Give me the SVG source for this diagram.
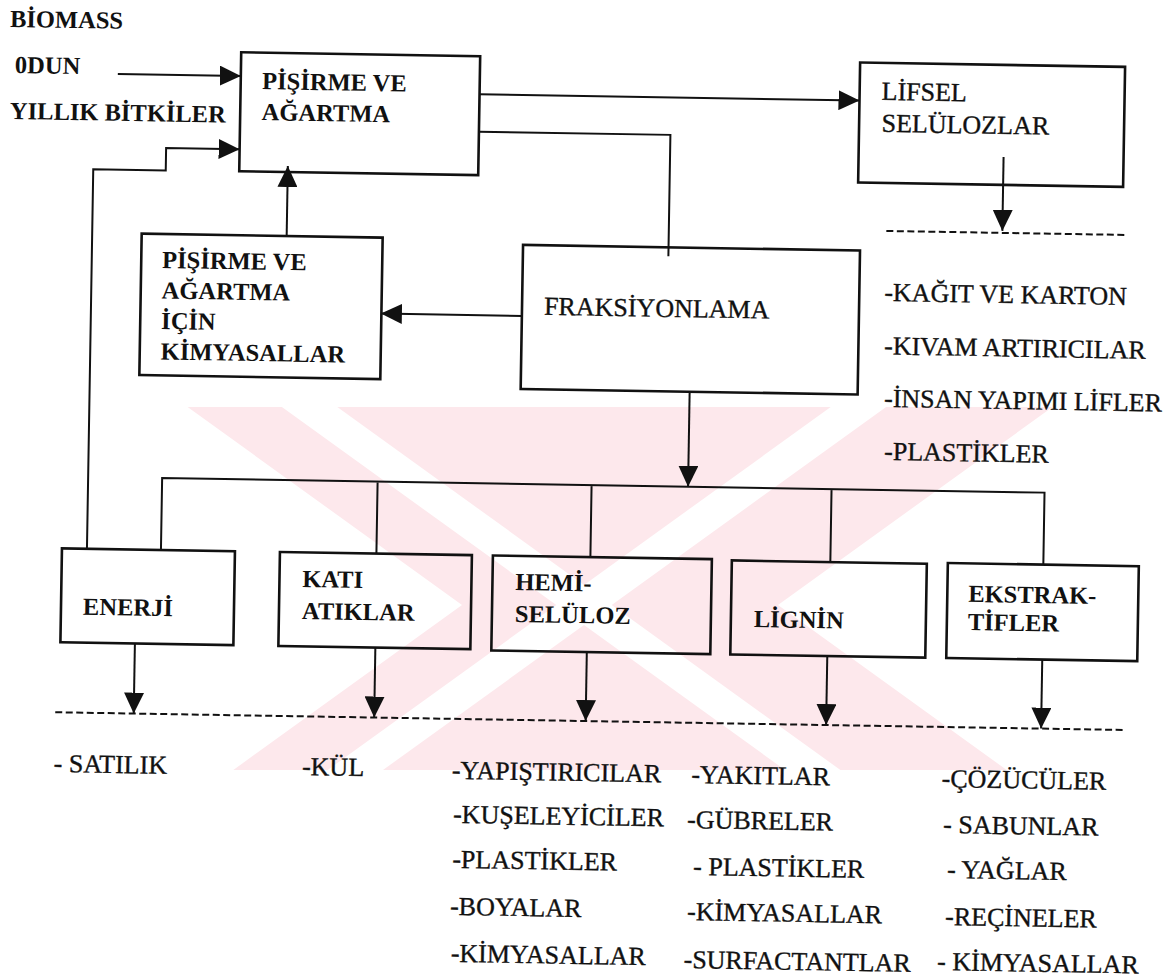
<svg xmlns="http://www.w3.org/2000/svg" width="1170" height="979" viewBox="0 0 1170 979">
<defs>
<clipPath id="wmclip"><rect x="160" y="407" width="905" height="363"/></clipPath>
<marker id="ah" markerUnits="userSpaceOnUse" markerWidth="22" markerHeight="20" refX="21" refY="10" orient="auto"><path d="M0,0 L21,10 L0,20 Z" fill="#111"/></marker>
</defs>
<style>
.box{fill:none;stroke:#111;stroke-width:2.6}
.ln{fill:none;stroke:#111;stroke-width:2}
.arr{fill:none;stroke:#111;stroke-width:2;marker-end:url(#ah)}
.dash{fill:none;stroke:#111;stroke-width:2;stroke-dasharray:7 3.5}
.b{font-family:"Liberation Serif","Times New Roman",serif;font-weight:bold;font-size:24.5px;fill:#111}
.r{font-family:"Liberation Serif","Times New Roman",serif;font-size:26px;fill:#111;stroke:#111;stroke-width:0.35}
</style>
<rect width="1170" height="979" fill="#fff"/>
<g id="watermark" clip-path="url(#wmclip)" fill="#fde8ec">
<polygon points="187.6,407 462,605 233.3,770 327.6,770 556.3,605 281.9,407"/>
<polygon points="1052.5,407 778,605 1006.7,770 840.4,770 611.7,605 886.1,407"/>
<polygon points="337.3,407 830.7,407 584,585"/>
<polygon points="584,625 785,770 383,770"/>
</g>
<g transform="rotate(0.95 585 490)">
<g id="connectors">
<path class="arr" d="M111,81.7 H234"/>
<path class="arr" d="M88,557 V177.5 H160.5 V155 H234"/>
<path class="arr" d="M282.5,241 V171"/>
<path class="arr" d="M473,96 H853"/>
<path class="ln" d="M473,133.5 H664.5 V255"/>
<path class="arr" d="M519,317 H378"/>
<path class="arr" d="M998,150 V224"/>
<path class="dash" d="M882,226 H1120"/>
<path class="arr" d="M688,390 V485"/>
<path class="ln" d="M162,557 V485 H1044.5 V557 M377.5,485 V557 M591.5,485 V557 M831.5,485 V558"/>
<path class="arr" d="M137.5,651 V721"/>
<path class="arr" d="M378,651 V721"/>
<path class="arr" d="M589.5,652 V721"/>
<path class="arr" d="M830,652 V721"/>
<path class="arr" d="M1045,652 V721"/>
<path class="dash" d="M59,721 H1128"/>
</g>
<g id="inputs">
<text class="b" x="2.3" y="36.5">BİOMASS</text>
<text class="b" x="8" y="82.5">0DUN</text>
<text class="b" x="3.8" y="128.5">YILLIK BİTKİLER</text>
</g>
<g id="pisirme">
<rect class="box" x="234" y="58" width="239" height="119"/>
<text class="b" x="255.5" y="94.5">PİŞİRME VE</text>
<text class="b" x="255.5" y="125.5">AĞARTMA</text>
</g>
<g id="lifsel">
<rect class="box" x="853" y="58" width="265" height="120"/>
<text class="r" x="875" y="95">LİFSEL</text>
<text class="r" x="875.5" y="127">SELÜLOZLAR</text>
</g>
<g id="kimyasallar">
<rect class="box" x="137.5" y="241" width="241" height="141.5"/>
<text class="b" x="158.5" y="275">PİŞİRME VE</text>
<text class="b" x="158.5" y="305.5">AĞARTMA</text>
<text class="b" x="158.5" y="336">İÇİN</text>
<text class="b" x="158.5" y="366.5">KİMYASALLAR</text>
</g>
<g id="fraksiyonlama">
<rect class="box" x="519" y="246" width="337" height="144"/>
<text class="r" x="541" y="315.5">FRAKSİYONLAMA</text>
</g>
<g id="lifsel-list">
<text class="r" x="881" y="296">-KAĞIT VE KARTON</text>
<text class="r" x="881.7" y="349.5">-KIVAM ARTIRICILAR</text>
<text class="r" x="882.6" y="402">-İNSAN YAPIMI LİFLER</text>
<text class="r" x="883.5" y="455">-PLASTİKLER</text>
</g>
<g id="enerji">
<rect class="box" x="63" y="557" width="173" height="94"/>
<text class="b" x="85" y="623">ENERJİ</text>
</g>
<g id="kati">
<rect class="box" x="281" y="557" width="192" height="94"/>
<text class="b" x="303.8" y="591.7">KATI</text>
<text class="b" x="304" y="623.7">ATIKLAR</text>
</g>
<g id="hemiseluloz">
<rect class="box" x="494" y="557" width="219" height="95"/>
<text class="b" x="516.8" y="591.2">HEMİ-</text>
<text class="b" x="517" y="623.2">SELÜLOZ</text>
</g>
<g id="lignin">
<rect class="box" x="733" y="558" width="195" height="94"/>
<text class="b" x="756" y="624.2">LİGNİN</text>
</g>
<g id="ekstraktifler">
<rect class="box" x="949" y="557" width="191" height="95"/>
<text class="b" x="970" y="595.5">EKSTRAK-</text>
<text class="b" x="970" y="623.6">TİFLER</text>
</g>
<g id="products">
<text class="r" x="58.3" y="780.8">- SATILIK</text>
<text class="r" x="306.7" y="779.7">-KÜL</text>
<text class="r" x="456.5" y="781">-YAPIŞTIRICILAR</text>
<text class="r" x="458.5" y="825">-KUŞELEYİCİLER</text>
<text class="r" x="458.5" y="870">-PLASTİKLER</text>
<text class="r" x="457" y="917">-BOYALAR</text>
<text class="r" x="458.5" y="964">-KİMYASALLAR</text>
<text class="r" x="696" y="781.2">-YAKITLAR</text>
<text class="r" x="692.6" y="826.3">-GÜBRELER</text>
<text class="r" x="699.4" y="873.2">- PLASTİKLER</text>
<text class="r" x="694.1" y="918.3">-KİMYASALLAR</text>
<text class="r" x="691.4" y="966.4">-SURFACTANTLAR</text>
<text class="r" x="946.4" y="781.1">-ÇÖZÜCÜLER</text>
<text class="r" x="948.7" y="827.1">- SABUNLAR</text>
<text class="r" x="953.4" y="872">- YAĞLAR</text>
<text class="r" x="952.2" y="919">-REÇİNELER</text>
<text class="r" x="945" y="964.2">- KİMYASALLAR</text>
</g>
</g>
</svg>
